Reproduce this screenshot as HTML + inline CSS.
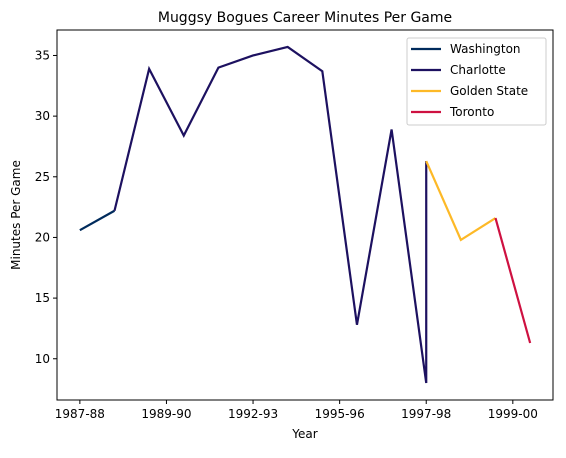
<!DOCTYPE html>
<html><head><meta charset="utf-8"><style>
body{margin:0;background:#fff;}
svg text{font-family:"DejaVu Sans","Liberation Sans",sans-serif;fill:#000;}
</style></head><body>
<svg id="chart" width="566" height="453" xmlns="http://www.w3.org/2000/svg">
<text x="305" y="22" font-size="14" text-anchor="middle">Muggsy Bogues Career Minutes Per Game</text>
<g id="plot"></g>
<rect x="57" y="30" width="496" height="370" fill="none" stroke="#000" stroke-width="1"/>
<text x="305" y="438" font-size="12" text-anchor="middle">Year</text>
<text transform="translate(20,215) rotate(-90)" font-size="12" text-anchor="middle">Minutes Per Game</text>
<g id="legend"></g>
</svg>
<script>
const xTickPos=[0,2.5,5,7.5,10,12.5];
const xTickLabels=["1987-88","1989-90","1992-93","1995-96","1997-98","1999-00"];
const yTicks=[10,15,20,25,30,35];
const teamNames=["Washington","Charlotte","Golden State","Toronto"];
const teamColors=["#002B5C","#1D1160","#FDB927","#CE1141"];
const washingtonX=[0,1];
const washingtonY=[20.6,22.2];
const charlotteX=[1,2,3,4,5,6,7,8,9,10,10];
const charlotteY=[22.2,33.9,28.4,34.0,35.0,35.7,33.7,12.8,28.9,8.0,26.3];
const goldenStateX=[10,11,12];
const goldenStateY=[26.3,19.8,21.6];
const torontoX=[12,13];
const torontoY=[21.6,11.3];
const seriesX=[washingtonX,charlotteX,goldenStateX,torontoX];
const seriesY=[washingtonY,charlotteY,goldenStateY,torontoY];

const NS="http://www.w3.org/2000/svg";
const L=57,R=553,T=30,B=400;
const xMin=-0.66,xMax=13.66,yMin=6.6,yMax=37.1;
const sx=v=>L+(v-xMin)/(xMax-xMin)*(R-L);
const sy=v=>B-(v-yMin)/(yMax-yMin)*(B-T);
const plot=document.getElementById('plot');
function mk(tag,attrs,parent){const e=document.createElementNS(NS,tag);for(const k in attrs)e.setAttribute(k,attrs[k]);parent.appendChild(e);return e;}
xTickPos.forEach((p,i)=>{
  const t=mk('line',{x1:sx(p),x2:sx(p),y1:B,y2:B+4,stroke:'#000'},plot);
  
  
  const tx=mk('text',{x:sx(p),y:B+18,'font-size':12,'text-anchor':'middle'},plot);
  tx.textContent=xTickLabels[i];
  
  
});
yTicks.forEach(v=>{
  const t=mk('line',{x1:L-4,x2:L,y1:sy(v),y2:sy(v),stroke:'#000'},plot);
  
  
  const tx=mk('text',{x:L-7,y:sy(v)+4,'font-size':12,'text-anchor':'end'},plot);
  tx.textContent=v;
  
  
});
seriesX.forEach((xs,i)=>{
  const pts=xs.map((x,j)=>sx(x)+','+sy(seriesY[i][j])).join(' ');
  const pl=mk('polyline',{points:pts,fill:'none',stroke:teamColors[i],'stroke-width':2.2,'stroke-linejoin':'miter'},plot);
  
  
});
const lg=document.getElementById('legend');
mk('rect',{x:407,y:38,width:139,height:87,rx:2,fill:'#fff',stroke:'#ccc'},lg);
teamNames.forEach((n,i)=>{
  const y=49+i*21;
  const ln=mk('line',{x1:411,x2:441,y1:y,y2:y,stroke:teamColors[i],'stroke-width':2.2},lg);
  
  
  const tx=mk('text',{x:450,y:y+4,'font-size':12},lg);
  tx.textContent=n;
  
  
});
</script>
</body></html>
